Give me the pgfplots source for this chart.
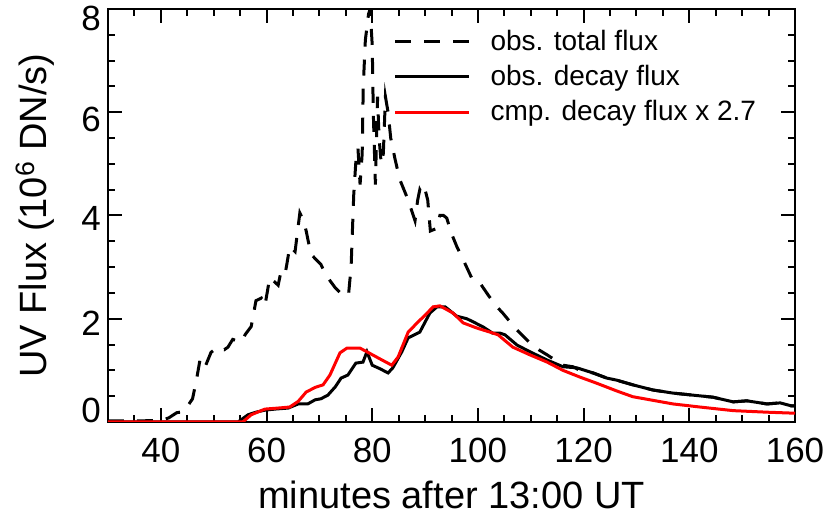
\documentclass[border=0pt]{standalone}
\usepackage{fontspec}
\setmainfont{Liberation Sans}
\usepackage{pgfplots}
\pgfplotsset{compat=1.18}

\pgfplotstableread{
x y
30 0.02
35 0.02
40 0.03
41.5 0.08
43 0.18
44.3 0.2
45 0.3
46 0.45
46.8 0.85
47.4 1.2
48.3 1.05
49.5 1.35
50.8 1.45
52 1.4
52.7 1.45
53.6 1.6
55.2 1.55
56 1.7
57.1 1.85
58 2.35
59 2.4
59.7 2.25
60.6 2.8
62.2 2.65
62.7 2.9
63.5 2.85
64.4 3.4
65.4 3.3
66.3 4.05
67.0 3.9
67.5 3.7
68.4 3.25
70.3 3.05
71.2 2.85
73.0 2.6
74.0 2.5
74.8 2.5
75.5 2.45
76.0 3.0
76.5 4.4
77.0 5.2
77.3 5.3
77.7 4.6
78.1 5.2
78.3 6.5
78.7 7.4
79.3 7.9
79.6 8.0
80.0 7.3
80.2 6.0
80.6 4.6
81.0 6.3
81.3 5.5
81.7 5.0
82.1 5.2
82.5 6.3
83.0 6.0
83.5 5.5
84.3 5.1
85.2 4.7
85.8 4.55
86.8 4.3
88.1 3.9
88.6 4.3
89.0 4.5
89.5 4.4
90.0 4.5
90.5 4.3
91.0 3.7
92.2 3.75
92.8 4.0
93.5 4.0
94.1 3.95
95.0 3.65
96.0 3.4
97.5 3.08
99.0 2.75
100.4 2.69
102.0 2.45
103.6 2.23
104.7 2.11
106.0 1.95
107.4 1.78
109.85 1.53
111.5 1.4
113.1 1.3
116.1 1.1
118.0 1.07
119.3 1.0
121.8 0.95
124.4 0.85
126.9 0.79
129.3 0.72
133.1 0.62
136.9 0.56
140.7 0.52
144.5 0.48
148.3 0.39
150.9 0.41
154.7 0.35
157.2 0.37
159.4 0.31
160 0.31
}\totalflux

\pgfplotstableread{
x y
30 0.0
54.6 0.0
56.5 0.14
58.0 0.19
59.7 0.23
61.6 0.25
64.1 0.27
66.0 0.35
67.8 0.35
69.2 0.43
70.3 0.45
71.6 0.52
73.0 0.68
74.1 0.85
75.4 0.91
76.9 1.14
78.25 1.16
79.0 1.36
80.0 1.10
81.5 1.03
83.0 0.95
83.9 1.05
85.6 1.36
86.8 1.63
89.0 1.74
90.9 2.11
92.25 2.23
93.8 2.23
96.0 2.05
97.9 2.0
99.1 1.94
101.0 1.84
102.8 1.72
104.2 1.72
105.1 1.69
107.4 1.49
109.85 1.36
113.1 1.2
116.1 1.07
118.7 1.05
121.8 0.95
124.4 0.85
126.3 0.81
129.3 0.72
133.1 0.62
136.9 0.56
140.7 0.52
144.5 0.48
148.3 0.39
150.9 0.41
154.7 0.35
157.2 0.37
159.4 0.31
160 0.31
}\decayflux

\pgfplotstableread{
x y
30 0.0
55.5 0.0
57.1 0.14
59.7 0.25
62.2 0.27
64.4 0.29
66.0 0.40
67.5 0.58
69.2 0.67
70.7 0.72
72.0 0.91
73.9 1.34
75.2 1.43
77.7 1.43
79.0 1.36
81.5 1.22
83.7 1.10
84.9 1.26
86.8 1.74
88.5 1.92
90.4 2.11
91.5 2.23
92.8 2.25
95.3 2.11
97.2 1.92
99.8 1.82
102.3 1.74
103.8 1.69
106.6 1.45
109.85 1.30
113.1 1.16
116.1 1.0
119.3 0.87
122.5 0.75
126.3 0.60
129.3 0.49
133.1 0.42
136.9 0.35
142.0 0.29
148.3 0.22
154.7 0.19
160 0.17
}\cmpflux

\begin{document}
\begin{tikzpicture}
\begin{axis}[
  name=ax,
  scale only axis,
  width=343.5pt, height=206.5pt,
  xmin=30, xmax=160, ymin=0, ymax=8,
  xtick={40,60,...,160},
  minor xtick={30,35,...,160},
  ytick={0,2,4,6,8},
  yticklabels={\raisebox{-0.3pt}{0},\raisebox{-8.3pt}{2},\raisebox{-7.3pt}{4},\raisebox{-9.8pt}{6},\raisebox{-10.8pt}{8}},
  yticklabel style={anchor=base east},
  minor ytick={0,0.5,...,8},
  tick align=inside,
  major tick length=7pt,
  minor tick length=3.5pt,
  every tick/.style={black, line width=1pt},
  axis line style={line width=1pt},
  ticklabel style={font=\fontsize{17.5}{20}\selectfont},
  xticklabel style={yshift=-4.5pt},
  /pgf/number format/assume math mode=true,
  xlabel={minutes after 13:00 UT},
  ylabel={UV Flux (10\textsuperscript{6} DN/s)},
  label style={font=\fontsize{19}{22}\selectfont},
  xlabel style={yshift=-2pt},
  ylabel style={yshift=6.5pt},
  legend cell align=left,
  legend style={draw=none, fill=none, at={(rel axis cs:0.415,0.96)}, anchor=north west,
    font=\fontsize{14}{16}\selectfont, row sep=2pt, inner sep=0pt,
    nodes={inner sep=2pt}},
  legend image code/.code={\draw[#1] (0pt,0pt) -- (37pt,0pt); \path (45pt,0pt);},
]
\addplot[black, line width=1.5pt, dash pattern=on 8pt off 6.5pt] table {\totalflux};
\addlegendentry{obs. total flux}
\addplot[black, line width=1.5pt] table {\decayflux};
\addlegendentry{obs. decay flux}
\addplot[red, line width=1.5pt] table {\cmpflux};
\addlegendentry{cmp. decay flux x 2.7}
\end{axis}
\pgfresetboundingbox
\useasboundingbox ([xshift=-54pt,yshift=-48pt]ax.south west) rectangle ([xshift=17.5pt,yshift=4.5pt]ax.north east);
\end{tikzpicture}
\end{document}
